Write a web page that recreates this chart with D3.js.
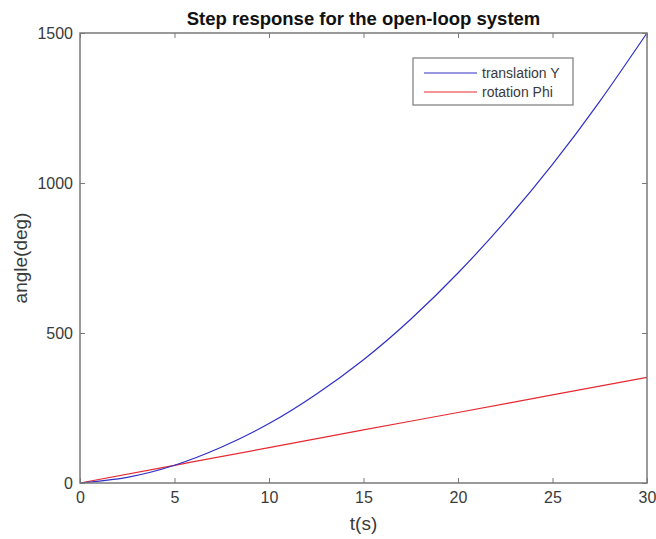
<!DOCTYPE html>
<html>
<head>
<meta charset="utf-8">
<script src="https://cdn.jsdelivr.net/npm/d3@7"></script>
<style>
  html, body { margin: 0; padding: 0; background: #fff; }
  svg { display: block; font-family: "Liberation Sans", Arial, sans-serif; }
</style>
</head>
<body>
<div id="chart"></div>
<script>
// values
const timeY = [0, 2.5, 5, 7.5, 10, 12.5, 15, 17.5, 20, 22.5, 25, 27.5, 30];
const translationY = [0, 19, 59, 120, 198, 296, 411, 546, 700, 872, 1062, 1272, 1500];
const timePhi = [0, 5, 10, 15, 20, 25, 30];
const rotationPhi = [0, 59, 118, 177, 235, 294, 352];
const xTicks = [0, 5, 10, 15, 20, 25, 30];
const yTicks = [0, 500, 1000, 1500];
const seriesNames = ['translation Y', 'rotation Phi'];

const W = 656, H = 539;
const margin = { top: 33, right: 9, bottom: 56, left: 80 };
const iw = W - margin.left - margin.right;
const ih = H - margin.top - margin.bottom;

const axisColor = '#7a7a7a';
const textColor = '#3a3a3a';
const blue = '#2f2fc8';
const red = '#e62a32';

const svg = d3.select('#chart').append('svg')
  .attr('width', W)
  .attr('height', H);

const g = svg.append('g').attr('transform', `translate(${margin.left},${margin.top})`);

const x = d3.scaleLinear().domain([0, 30]).range([0, iw]);
const y = d3.scaleLinear().domain([0, 1500]).range([ih, 0]);

// lines
const line = d3.line()
  .x((d) => x(d[0]))
  .y((d) => y(d[1]))
  .curve(d3.curveNatural);

g.append('path')
  .datum(timePhi.map((t, i) => [t, rotationPhi[i]]))
  .attr('fill', 'none')
  .attr('stroke', red)
  .attr('stroke-width', 1.2)
  .attr('d', line);

g.append('path')
  .datum(timeY.map((t, i) => [t, translationY[i]]))
  .attr('fill', 'none')
  .attr('stroke', blue)
  .attr('stroke-width', 1.2)
  .attr('d', line);

// axes, MATLAB style box with inward ticks on all sides
function styleAxis(sel) {
  sel.select('.domain').remove();
  sel.selectAll('.tick line').attr('stroke', axisColor).attr('stroke-width', 1);
  sel.selectAll('.tick text')
    .attr('fill', textColor)
    .style('font-size', '16px');
}

g.append('g')
  .attr('transform', `translate(0,${ih})`)
  .call(d3.axisBottom(x).tickValues(xTicks).tickSize(-5).tickPadding(9).tickFormat(d3.format('d')))
  .call(styleAxis);

g.append('g')
  .call(d3.axisTop(x).tickValues(xTicks).tickSize(-5).tickFormat(''))
  .call(styleAxis);

g.append('g')
  .call(d3.axisLeft(y).tickValues(yTicks).tickSize(-5).tickPadding(7).tickFormat(d3.format('d')))
  .call(styleAxis);

g.append('g')
  .attr('transform', `translate(${iw},0)`)
  .call(d3.axisRight(y).tickValues(yTicks).tickSize(-5).tickFormat(''))
  .call(styleAxis);

g.append('rect')
  .attr('width', iw)
  .attr('height', ih)
  .attr('fill', 'none')
  .attr('stroke', axisColor)
  .attr('stroke-width', 1.5);

// title and labels
svg.append('text')
  .attr('x', margin.left + iw / 2)
  .attr('y', 25)
  .attr('text-anchor', 'middle')
  .attr('fill', '#111')
  .style('font-size', '18.5px')
  .style('font-weight', 'bold')
  .text('Step response for the open-loop system');

svg.append('text')
  .attr('x', margin.left + iw / 2)
  .attr('y', 530)
  .attr('text-anchor', 'middle')
  .attr('fill', textColor)
  .style('font-size', '19px')
  .text('t(s)');

svg.append('text')
  .attr('transform', `translate(27,${margin.top + ih / 2}) rotate(-90)`)
  .attr('text-anchor', 'middle')
  .attr('fill', textColor)
  .style('font-size', '19px')
  .text('angle(deg)');

// legend
const legend = svg.append('g').attr('transform', 'translate(413,58)');
legend.append('rect')
  .attr('width', 160)
  .attr('height', 47)
  .attr('fill', '#fff')
  .attr('stroke', axisColor)
  .attr('stroke-width', 1.2);

[blue, red].forEach((c, i) => {
  const row = legend.append('g').attr('transform', `translate(0,${15 + i * 19})`);
  row.append('line')
    .attr('x1', 11).attr('x2', 64)
    .attr('stroke', c)
    .attr('stroke-width', 1.2);
  row.append('text')
    .attr('x', 69)
    .attr('dy', '0.35em')
    .attr('fill', textColor)
    .style('font-size', '14px')
    .text(seriesNames[i]);
});
</script>
</body>
</html>
